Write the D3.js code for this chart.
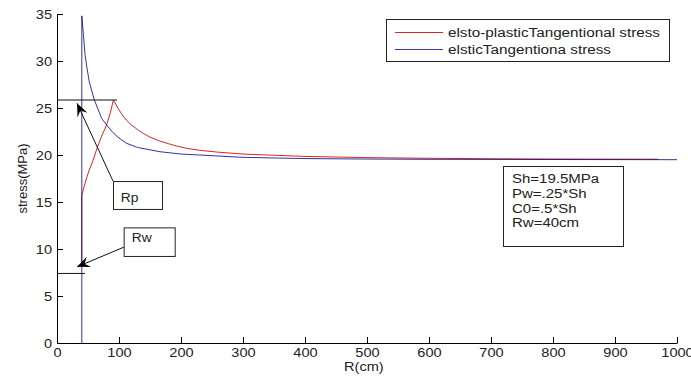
<!DOCTYPE html>
<html>
<head>
<meta charset="utf-8">
<script src="https://cdn.jsdelivr.net/npm/d3@7/dist/d3.min.js"></script>
<style>
body{margin:0;background:#fff}
text{font-family:Arial,"Liberation Sans",sans-serif;fill:#222}
</style>
</head>
<body>
<div id="container"></div>
<script>
const width = 691
const height = 383
const margin = {left:57,top:14,right:14,bottom:40}

// data
const xTicks = [0,100,200,300,400,500,600,700,800,900,1000]
const yTicks = [0,5,10,15,20,25,30,35]

// elasto-plastic tangential stress (red)
const plasticR = [40,40,44,48,52,58,65,72,80,86,91,100,106,112,120,130,139,150,165,180,193,210,230,260,300,400,500,600,700,800,970]
const plasticS = [8.1,15.7,16.7,17.6,18.4,19.4,20.8,22.0,23.2,24.5,25.85,24.8,24.2,23.7,23.2,22.7,22.3,21.9,21.5,21.2,20.95,20.7,20.5,20.3,20.1,19.85,19.72,19.65,19.6,19.57,19.55]

// elastic tangential stress (blue)
const elasticR = [40,40,42.5,45,48,52,60,72,80,90,100,112,130,166,200,230,300,400,500,600,800,1000]
const elasticS = [0,34.8,32.9,30.8,29.4,27.8,25.9,23.9,23.2,22.4,21.8,21.25,20.8,20.35,20.1,20.0,19.75,19.62,19.57,19.54,19.52,19.5]

const legendLabels = ["elsto-plasticTangentional stress","elsticTangentiona stress"]
const paramLines = ["Sh=19.5MPa","Pw=.25*Sh","C0=.5*Sh","Rw=40cm"]

const svg = d3.select("#container")
  .append("svg")
  .attr("width",width)
  .attr("height",height)

const x = d3.scaleLinear().domain([0,1000]).range([margin.left,width-margin.right])
const y = d3.scaleLinear().domain([0,35]).range([height-margin.bottom,margin.top])

// picture text is stretched sideways a bit
function stretch(sel,k){
  sel.each(function(){
    const w = this.getComputedTextLength()
    d3.select(this).attr("textLength",w*k).attr("lengthAdjust","spacingAndGlyphs")
  })
}

// axes, ticks pointing inside
const gx = svg.append("g")
  .attr("transform",`translate(0,${y(0)})`)
  .call(d3.axisBottom(x).tickValues(xTicks).tickFormat(d3.format("d")).tickSizeInner(-6).tickSizeOuter(0).tickPadding(5))
const gy = svg.append("g")
  .attr("transform",`translate(${x(0)},0)`)
  .call(d3.axisLeft(y).tickValues(yTicks).tickFormat(d3.format("d")).tickSizeInner(-6).tickSizeOuter(0).tickPadding(5))

;[gx,gy].forEach(g=>{
  g.attr("font-family",null).attr("font-size",null)
  g.selectAll("path,line").attr("stroke","#000")
  g.selectAll("text").style("font-size","13px").attr("fill","#222")
  stretch(g.selectAll("text"),1.12)
})

svg.append("text")
  .attr("x",x(495)).attr("y",371)
  .attr("text-anchor","middle")
  .style("font-size","13px")
  .text("R(cm)")
  .call(stretch,1.12)

svg.append("text")
  .attr("transform",`translate(27,${(y(0)+y(35))/2}) rotate(-90)`)
  .attr("text-anchor","middle")
  .style("font-size","13px")
  .text("stress(MPa)")

// curves
const line = d3.line().x(d=>x(d[0])).y(d=>y(d[1]))

svg.append("path")
  .attr("d",line(d3.zip(plasticR,plasticS)))
  .attr("fill","none")
  .attr("stroke","#e02222")
  .attr("stroke-width",1)

svg.append("path")
  .attr("d",line(d3.zip(elasticR,elasticS)))
  .attr("fill","none")
  .attr("stroke","#000088")
  .attr("stroke-opacity",0.8)
  .attr("stroke-width",1)

// annotation guide lines
const guides = [
  {r0:0,r1:97,s:25.85},
  {r0:0,r1:45,s:7.4}
]
svg.selectAll(".guide").data(guides).join("line")
  .attr("x1",d=>x(d.r0)).attr("x2",d=>x(d.r1))
  .attr("y1",d=>y(d.s)).attr("y2",d=>y(d.s))
  .attr("stroke","#111").attr("stroke-width",1)

// arrows + labelled boxes
const notes = [
  {label:"Rp",tail:[90.3,17.23],tip:[32.3,25.5],box:[90.3,169.4,17.23,14.26],tx:[103,14.95]},
  {label:"Rw",tail:[108,10.2],tip:[32.3,8.1],box:[107.5,189.8,12.3,9.26],tx:[120.5,10.7]}
]

notes.forEach(n=>{
  const x1 = x(n.tail[0]), y1 = y(n.tail[1]), x2 = x(n.tip[0]), y2 = y(n.tip[1])
  const ang = Math.atan2(y2-y1,x2-x1)*180/Math.PI
  svg.append("line")
    .attr("x1",x1).attr("y1",y1).attr("x2",x2).attr("y2",y2)
    .attr("stroke","#111")
  svg.append("path")
    .attr("d","M0,0 L-13,-5.5 L-8,0 L-13,5.5 Z")
    .attr("transform",`translate(${x2},${y2}) rotate(${ang})`)
    .attr("fill","#000")
  svg.append("rect")
    .attr("x",x(n.box[0])+0.5).attr("y",y(n.box[2])+0.5)
    .attr("width",x(n.box[1])-x(n.box[0])).attr("height",y(n.box[3])-y(n.box[2]))
    .attr("fill","#fff").attr("stroke","#222")
  svg.append("text")
    .attr("x",x(n.tx[0])).attr("y",y(n.tx[1]))
    .style("font-size","12px")
    .text(n.label)
    .call(stretch,1.15)
})

// legend
const lg = svg.append("g")
lg.append("rect")
  .attr("x",386.5).attr("y",19.5).attr("width",283).attr("height",42)
  .attr("fill","#fff").attr("stroke","#222")
const legendColors = ["#e02222","#3a3aa8"]
const legendWidths = [212,163]
legendLabels.forEach((t,i)=>{
  const yy = 32.5 + i*17
  lg.append("line").attr("x1",395).attr("x2",443).attr("y1",yy).attr("y2",yy)
    .attr("stroke",legendColors[i])
  lg.append("text").attr("x",448).attr("y",yy+4.3)
    .style("font-size","12px")
    .attr("textLength",legendWidths[i]).attr("lengthAdjust","spacingAndGlyphs")
    .text(t)
})

// parameter box
const pb = svg.append("g")
pb.append("rect")
  .attr("x",503.5).attr("y",166.5).attr("width",120).attr("height",80)
  .attr("fill","#fff").attr("stroke","#222")
paramLines.forEach((t,i)=>{
  pb.append("text").attr("x",512).attr("y",183.3+i*14.7)
    .style("font-size","12px")
    .text(t)
    .call(stretch,1.25)
})
</script>
</body>
</html>
